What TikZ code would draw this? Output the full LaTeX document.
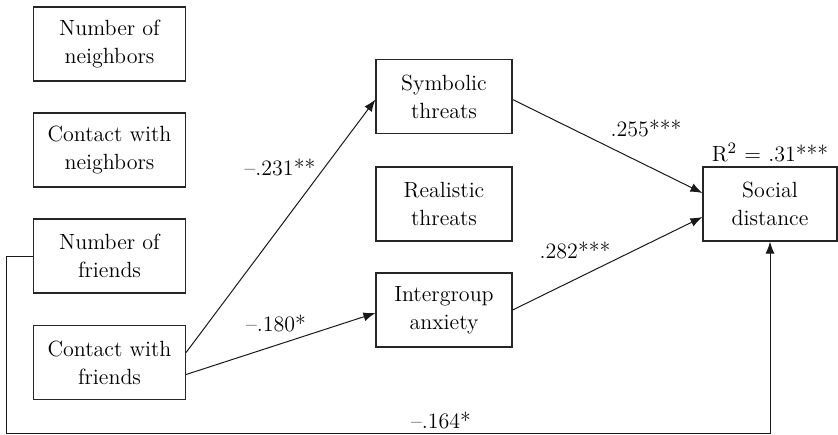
\documentclass[tikz,border=0pt]{standalone}
\usetikzlibrary{arrows.meta}

\begin{document}
\begin{tikzpicture}[x=0.5pt, y=-0.5pt,
        var/.style={draw=black!85, line width=0.6pt, align=center,
            minimum width=76pt, minimum height=37pt, inner sep=0pt,
            font=\fontsize{11}{14}\selectfont},
        mid/.style={var, minimum width=68pt},
        path/.style={draw=black!90, line width=0.5pt,
            -{Latex[length=6pt, width=4.5pt]}},
        coef/.style={inner sep=0pt, font=\fontsize{11}{14}\selectfont}]
    \useasboundingbox (0,0) rectangle (838,434);
    % exogenous variables
    \node[var] (nnb) at (109.5, 44)  {Number of\\neighbors};
    \node[var] (cnb) at (109.5, 150) {Contact with\\neighbors};
    \node[var] (nfr) at (109.5, 256) {Number of\\friends};
    \node[var] (cfr) at (109.5, 362.5) {Contact with\\friends};
    % mediators
    \node[mid] (sym)  at (444, 96.5) {Symbolic\\threats};
    \node[mid] (real) at (444, 204)  {Realistic\\threats};
    \node[mid] (anx)  at (444, 310)  {Intergroup\\anxiety};
    % outcome
    \node[var, minimum width=67pt] (soc) at (770, 204) {Social\\distance};
    \coordinate (lo) at (6, 433);
    % paths
    \draw[path] ([yshift=5pt]cfr.east) -- ([yshift=-1.5pt]sym.west);
    \draw[path] ([yshift=-6pt]cfr.east) -- ([yshift=-1.5pt]anx.west);
    \draw[path] ([yshift=-1.5pt]sym.east) -- ([yshift=5.5pt]soc.west);
    \draw[path] (anx.east) -- ([yshift=-6.5pt]soc.west);
    \draw[path] (nfr.west) -| (lo) -| (soc.south);
    % coefficients
    \node[coef] (c1) at (280, 167) {\textendash.231**};
    \node[coef] (c2) at (276, 323) {\textendash.180*};
    \node[coef] (c3) at (646, 128) {.255***};
    \node[coef] (c4) at (575, 250) {.282***};
    \node[coef] (c5) at (441, 420) {\textendash.164*};
    \node[coef] (r2) at (770, 153) {R$^2$ = .31***};
\end{tikzpicture}
\end{document}
